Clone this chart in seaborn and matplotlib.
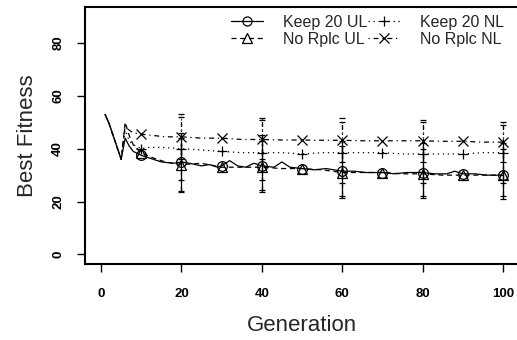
import matplotlib
matplotlib.use("Agg")
import matplotlib.pyplot as plt
from matplotlib.lines import Line2D
import seaborn as sns
import pandas as pd

# best fitness per generation
k20ul_gen = [1, 2, 3, 4, 5, 6, 7, 8, 10, 12, 15, 18, 20, 22, 25, 27, 29, 30, 32, 34, 36, 38, 40,
             43, 45, 47, 50, 53, 56, 60, 63, 66, 70, 73, 76, 80, 83, 86, 88, 90, 93, 96, 100]
k20ul_val = [53, 49.5, 45, 40.5, 36, 44, 41, 39, 37.5, 36.5, 35, 34.5, 35, 34.5, 33.5, 34, 33, 33.5,
             35.5, 33.5, 33, 34.5, 33.5, 33, 35, 33, 32.5, 32, 32.5, 31.5, 31.5, 31, 31, 30.5, 31,
             31, 30.5, 30.5, 31.5, 30.5, 30.5, 30, 30]

nrul_gen = [1, 2, 3, 4, 5, 6, 7, 8, 10, 13, 16, 20, 25, 30, 35, 40, 45, 50, 55, 60, 65, 70, 75,
            80, 85, 90, 95, 100]
nrul_val = [53, 49.5, 45, 40.5, 36, 50, 45, 41.5, 38.5, 36.5, 35, 34, 34.5, 33, 33, 33, 32.5, 32.5,
            32, 31, 31, 31, 30.5, 30.5, 30, 30, 30, 30]

k20nl_gen = [1, 2, 3, 4, 5, 6, 7, 8, 10, 12, 15, 20, 25, 30, 35, 40, 45, 50, 55, 60, 65, 70, 75,
             80, 85, 90, 95, 100]
k20nl_val = [53, 49.5, 45, 40.5, 36, 47, 43, 41.5, 40, 40.5, 40.5, 40, 39.5, 39, 38.5, 38.5, 38.5,
             38, 38.5, 38.5, 38.5, 38.5, 38, 38, 38, 38, 38.5, 38.5]

nrnl_gen = [1, 2, 3, 4, 5, 6, 7, 8, 10, 13, 16, 20, 25, 30, 35, 40, 45, 50, 55, 60, 65, 70, 75,
            80, 85, 90, 95, 100]
nrnl_val = [53, 49.5, 45, 40.5, 36, 49, 47, 46, 45.5, 45, 44.5, 44.5, 44, 44, 43.5, 43.5, 43.3,
            43.3, 43.2, 43.2, 43, 43, 43, 43, 42.8, 42.8, 42.5, 42.5]

# error bars every 20 generations
err_gen = [20, 40, 60, 80, 100]
k20ul_lo = [23.5, 23.5, 21.5, 21.5, 21]
k20ul_hi = [46, 45, 43, 42, 42]
nrul_lo = [24, 24.5, 22, 22, 22]
nrul_hi = [44, 43, 41, 40, 40]
k20nl_lo = [28, 28, 27, 27, 27]
k20nl_hi = [53, 51.5, 51.5, 51, 50]
nrnl_lo = [36, 36, 35, 35, 35]
nrnl_hi = [52, 51, 50, 50, 49]

# legend order (column by column)
labels = ["Keep 20 UL", "No Rplc UL", "Keep 20 NL", "No Rplc NL"]

sns.set_style("ticks")
plt.rcParams["font.family"] = ["Liberation Sans", "DejaVu Sans"]

fig = plt.figure(figsize=(5.17, 3.40), dpi=100)
ax = fig.add_axes([85 / 517, 1 - 264 / 340, 434 / 517, 257 / 340])

series = [
    (k20ul_gen, k20ul_val, k20ul_lo, k20ul_hi, "-", "o", "Keep 20 UL"),
    (nrul_gen, nrul_val, nrul_lo, nrul_hi, (0, (4, 3)), "^", "No Rplc UL"),
    (k20nl_gen, k20nl_val, k20nl_lo, k20nl_hi, (0, (1, 3)), "+", "Keep 20 NL"),
    (nrnl_gen, nrnl_val, nrnl_lo, nrnl_hi, (0, (1, 3, 4, 3)), "x", "No Rplc NL"),
]

handles = {}
for gen, val, lo, hi, ls, mk, lab in series:
    df = pd.DataFrame({"gen": gen, "val": val})
    sns.lineplot(data=df, x="gen", y="val", ax=ax, color="black", linestyle=ls, lw=0.9)
    m = df[df["gen"] % 10 == 0]
    ax.plot(m["gen"], m["val"], ls="none", marker=mk, ms=7, mfc="none", mec="black", mew=0.9)
    mid = df.set_index("gen").loc[err_gen, "val"].values
    eb = ax.errorbar(err_gen, mid, yerr=[mid - pd.Series(lo).values, pd.Series(hi).values - mid],
                     fmt="none", ecolor="black", elinewidth=0.9, capsize=2.5, capthick=0.9)
    eb[2][0].set_linestyle(ls)
    handles[lab] = Line2D([], [], color="black", linestyle=ls, lw=0.9, marker=mk, ms=6.5,
                          mfc="none", mec="black", mew=0.9)

ax.set_xlim(-4, 104)
ax.set_ylim(-3.6, 93.6)
ax.set_xticks([0, 20, 40, 60, 80, 100])
ax.set_yticks([0, 20, 40, 60, 80])
ax.tick_params(direction="out", length=6, width=1, colors="black", labelsize=9.5)
ax.tick_params(axis="x", pad=11)
ax.tick_params(axis="y", pad=9)
for t in ax.get_xticklabels() + ax.get_yticklabels():
    t.set_fontweight("bold")
for t in ax.get_yticklabels():
    t.set_rotation(90)
    t.set_va("center")
ax.set_xlabel("Generation", fontsize=16, labelpad=11)
ax.set_ylabel("Best Fitness", fontsize=16, labelpad=10)
for s in ax.spines.values():
    s.set_linewidth(1.5)
    s.set_color("black")

ax.legend([handles[l] for l in labels], labels, ncol=2, frameon=False, fontsize=11.5,
          loc="upper right", bbox_to_anchor=(1.0, 1.025), handlelength=2.0, handletextpad=1.3,
          columnspacing=0.0, labelspacing=0.1, numpoints=1)

fig.savefig("out.png", dpi=100)
